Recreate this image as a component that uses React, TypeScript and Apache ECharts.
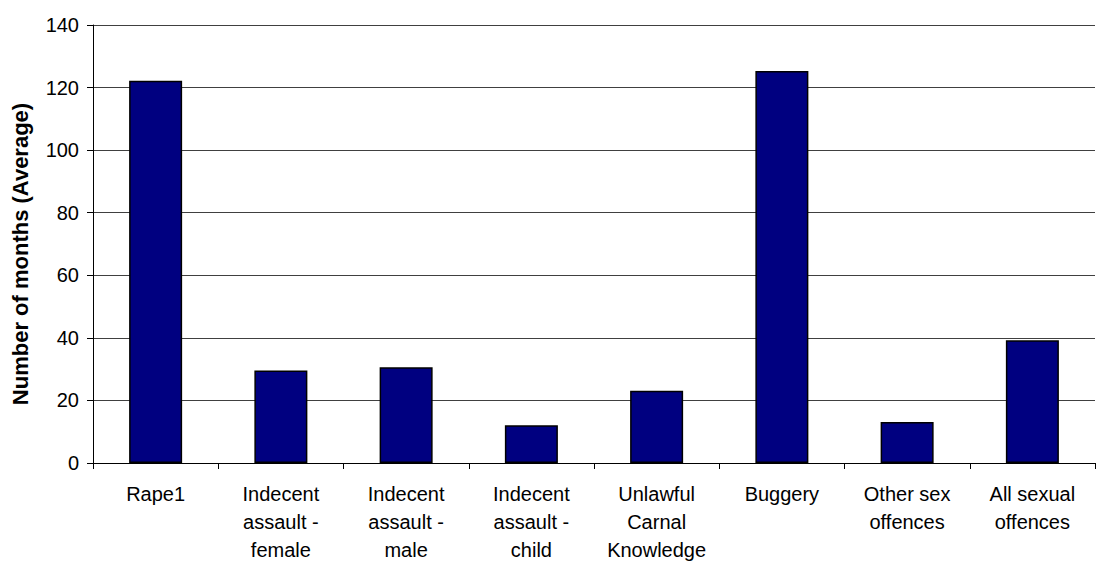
import React, { useEffect, useRef } from "react";
import * as echarts from "echarts";

const categories = [
  "Rape1",
  "Indecent\nassault -\nfemale",
  "Indecent\nassault -\nmale",
  "Indecent\nassault -\nchild",
  "Unlawful\nCarnal\nKnowledge",
  "Buggery",
  "Other sex\noffences",
  "All sexual\noffences",
];
const values = [122.2, 29.6, 30.6, 12.1, 23.1, 125.3, 13.1, 39.2];
const yTicks = { min: 0, max: 140, interval: 20 };
const yTitle = "Number of months (Average)";

export default function App() {
  const ref = useRef<HTMLDivElement>(null);
  useEffect(() => {
    if (!ref.current) return;
    const chart = echarts.init(ref.current, undefined, { renderer: "svg" });
    const font = "'Liberation Sans', Arial, sans-serif";
    chart.setOption({
      animation: false,
      backgroundColor: "#ffffff",
      grid: {
        left: 93,
        right: 8,
        top: 25,
        bottom: 100,
        containLabel: false,
        outerBoundsMode: "none",
      },
      graphic: [
        {
          type: "text",
          x: 20,
          y: 254,
          rotation: Math.PI / 2,
          style: {
            text: yTitle,
            fontFamily: font,
            fontSize: 22,
            fontWeight: "bold",
            fill: "#000",
            align: "center",
            verticalAlign: "middle",
          },
        },
      ],
      xAxis: {
        type: "category",
        data: categories,
        axisLine: { lineStyle: { color: "#000", width: 1 } },
        axisTick: { show: true, length: 6, lineStyle: { color: "#000" }, alignWithLabel: false },
        axisLabel: {
          interval: 0,
          margin: 17,
          fontFamily: font,
          fontSize: 20,
          color: "#000",
          lineHeight: 28,
        },
      },
      yAxis: {
        type: "value",
        min: yTicks.min,
        max: yTicks.max,
        interval: yTicks.interval,
        axisLine: { show: true, lineStyle: { color: "#000", width: 1 } },
        axisTick: { show: true, length: 6, lineStyle: { color: "#000" } },
        axisLabel: { fontFamily: font, fontSize: 20, color: "#000", margin: 14 },
        splitLine: { show: true, lineStyle: { color: "#404040", width: 1 } },
      },
      series: [
        {
          type: "bar",
          data: values,
          barWidth: 53,
          itemStyle: { color: "#000080", borderColor: "#000", borderWidth: 1.5 },
        },
      ],
    });
    return () => chart.dispose();
  }, []);
  return (
    <div
      ref={ref}
      style={{ position: "fixed", left: 0, top: 0, width: 1103, height: 563, background: "#fff" }}
    />
  );
}
